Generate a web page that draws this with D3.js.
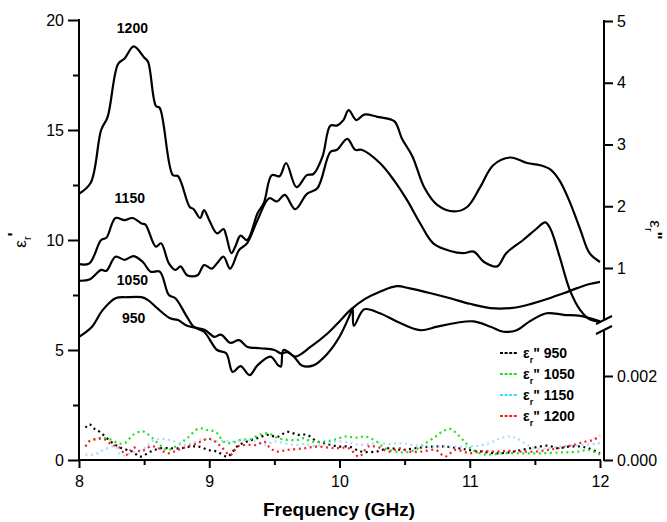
<!DOCTYPE html>
<html>
<head>
<meta charset="utf-8">
<script src="https://cdn.jsdelivr.net/npm/d3@7"></script>
<style>
  body { margin: 0; background: #fff; }
  svg { display: block; }
  text { font-family: Arial, "Liberation Sans", sans-serif; }
</style>
</head>
<body>
<script>
// eps' curves (left axis)
var freq1200 = [8.0,8.09,8.17,8.22,8.30,8.35,8.42,8.50,8.53,8.59,8.62,8.72,8.76,8.85,8.88,8.93,8.96,9.0,9.06,9.11,9.13,9.17,9.20,9.24,9.29,9.37,9.42,9.48,9.54,9.59,9.67,9.75,9.80,9.87,9.93,9.98,10.03,10.07,10.13,10.19,10.29,10.42,10.48,10.56,10.65,10.75,10.88,10.98,11.08,11.18,11.31,11.44,11.54,11.62,11.69,11.77,11.85,11.92,12.0];
var eps1200 = [12.1,12.6,15.0,15.6,18.0,18.25,18.8,18.3,18.1,16.1,16.0,12.95,12.9,11.5,11.4,11.0,11.36,10.9,10.3,10.5,10.2,9.4,9.7,10.2,10.0,11.2,11.7,12.95,12.9,13.5,12.4,12.95,13.0,13.8,15.2,15.2,15.45,15.9,15.45,15.7,15.6,15.4,14.6,13.8,12.4,11.6,11.3,11.5,12.4,13.4,13.75,13.5,13.4,13.2,12.7,11.7,10.45,9.4,9.0];

var freq1150 = [8.0,8.08,8.17,8.21,8.28,8.35,8.41,8.48,8.51,8.59,8.63,8.69,8.74,8.78,8.83,8.91,8.96,9.02,9.06,9.11,9.16,9.23,9.29,9.37,9.46,9.52,9.58,9.66,9.75,9.83,9.93,9.98,10.06,10.12,10.17,10.31,10.42,10.52,10.62,10.72,10.85,10.95,11.03,11.11,11.21,11.28,11.41,11.51,11.58,11.62,11.69,11.77,11.85,11.92,12.0];
var eps1150 = [8.9,8.94,10.0,10.1,11.0,10.9,11.0,10.75,10.7,9.7,9.85,8.94,8.64,8.8,8.4,8.4,8.86,8.7,8.94,9.24,8.7,9.55,9.85,10.9,11.9,11.75,12.05,11.4,12.1,12.35,14.0,14.1,14.6,14.1,14.1,13.5,12.7,11.8,10.75,9.85,9.5,9.4,9.47,9.0,8.8,9.4,10.0,10.5,10.8,10.5,9.24,7.7,6.8,6.4,6.3];

var freq1050 = [8.0,8.08,8.17,8.21,8.28,8.35,8.42,8.49,8.55,8.62,8.69,8.74,8.82,8.88,8.96,9.06,9.13,9.18,9.24,9.31,9.37,9.47,9.53,9.55,9.57,9.65,9.71,9.8,9.91,10.0,10.08,10.1,10.11,10.19,10.31,10.44,10.62,10.75,10.9,11.03,11.16,11.26,11.36,11.46,11.59,11.72,11.85,12.0];
var eps1050 = [8.15,8.2,8.64,8.6,9.24,9.1,9.27,9.0,8.56,8.56,7.5,7.35,6.6,6.06,5.83,5.0,4.85,4.0,4.27,3.86,4.3,4.7,4.3,4.25,5.0,4.7,4.3,4.3,4.85,5.6,6.6,6.9,6.1,6.85,6.67,6.3,5.9,6.06,6.24,6.3,6.06,5.83,5.9,6.3,6.67,6.6,6.55,6.3];

var freq950 = [8.0,8.1,8.18,8.28,8.37,8.48,8.53,8.6,8.7,8.76,8.83,8.91,8.97,9.04,9.09,9.16,9.23,9.29,9.39,9.5,9.55,9.6,9.66,9.78,9.91,10.0,10.08,10.19,10.31,10.44,10.54,10.7,10.85,11.0,11.16,11.31,11.41,11.57,11.72,11.82,11.92,12.0];
var eps950 = [5.6,6.06,6.8,7.35,7.4,7.4,7.27,6.9,6.44,6.36,6.1,6.0,5.9,5.6,5.7,5.33,5.45,5.15,5.08,5.0,4.85,4.9,4.7,5.15,5.76,6.3,6.8,7.3,7.65,7.9,7.8,7.58,7.35,7.1,6.9,6.9,7.0,7.27,7.58,7.8,8.0,8.1];

// eps'' curves (right lower axis, units of 1e-3)
var lossFreq950 = [8.05,8.08,8.12,8.16,8.24,8.32,8.41,8.47,8.55,8.63,8.7,8.78,8.86,8.92,8.99,9.06,9.14,9.18,9.22,9.29,9.37,9.45,9.52,9.6,9.68,9.75,9.83,9.91,9.99,10.07,10.17,10.28,10.38,10.48,10.58,10.71,10.81,10.91,10.99,11.09,11.2,11.3,11.4,11.5,11.6,11.68,11.76,11.85,11.91,12.0];
var loss950 = [0.77,0.85,0.74,0.67,0.45,0.29,0.2,0.08,0.2,0.28,0.28,0.28,0.32,0.32,0.24,0.2,0.08,0.2,0.34,0.44,0.52,0.6,0.55,0.67,0.6,0.6,0.44,0.38,0.32,0.32,0.2,0.2,0.28,0.24,0.28,0.32,0.32,0.28,0.24,0.2,0.16,0.18,0.24,0.3,0.34,0.28,0.32,0.32,0.28,0.16];

var lossFreq1050 = [8.05,8.08,8.13,8.19,8.25,8.3,8.35,8.42,8.49,8.55,8.62,8.68,8.76,8.83,8.92,8.99,9.05,9.11,9.16,9.24,9.32,9.39,9.46,9.52,9.6,9.68,9.73,9.78,9.88,9.96,10.05,10.13,10.2,10.28,10.35,10.43,10.5,10.58,10.66,10.74,10.79,10.85,10.91,10.97,11.02,11.12,11.25,11.4,11.55,11.71,11.84,11.91,12.0];
var loss1050 = [0.32,0.45,0.5,0.53,0.48,0.4,0.4,0.61,0.68,0.56,0.36,0.24,0.36,0.52,0.75,0.71,0.67,0.44,0.4,0.48,0.5,0.61,0.63,0.53,0.48,0.48,0.52,0.44,0.44,0.48,0.56,0.53,0.56,0.45,0.28,0.2,0.18,0.24,0.4,0.56,0.68,0.74,0.6,0.4,0.24,0.13,0.16,0.16,0.16,0.18,0.2,0.24,0.13];

var lossFreq1150 = [8.05,8.12,8.19,8.28,8.32,8.4,8.5,8.58,8.65,8.74,8.82,8.9,8.97,9.05,9.12,9.2,9.28,9.35,9.43,9.5,9.58,9.65,9.73,9.8,9.88,9.96,10.07,10.15,10.22,10.3,10.38,10.46,10.56,10.66,10.76,10.86,10.96,11.05,11.15,11.22,11.3,11.36,11.44,11.5,11.6,11.68,11.78,11.88,12.0];
var loss1150 = [0.13,0.13,0.24,0.32,0.12,0.16,0.28,0.48,0.5,0.44,0.36,0.44,0.5,0.45,0.45,0.44,0.48,0.44,0.36,0.44,0.4,0.36,0.38,0.34,0.36,0.44,0.42,0.36,0.38,0.4,0.38,0.4,0.36,0.32,0.33,0.32,0.32,0.33,0.4,0.5,0.56,0.52,0.36,0.28,0.28,0.32,0.34,0.36,0.4];

var lossFreq1200 = [8.05,8.08,8.13,8.19,8.25,8.31,8.36,8.42,8.47,8.55,8.6,8.68,8.76,8.83,8.91,8.96,9.01,9.09,9.16,9.22,9.29,9.37,9.42,9.47,9.52,9.6,9.73,9.83,9.96,10.07,10.15,10.22,10.3,10.38,10.46,10.53,10.63,10.74,10.81,10.89,11.0,11.09,11.2,11.3,11.4,11.5,11.6,11.68,11.81,11.89,11.95,12.0];
var loss1200 = [0.32,0.45,0.5,0.5,0.37,0.3,0.12,0.3,0.2,0.32,0.3,0.16,0.24,0.32,0.4,0.48,0.5,0.32,0.12,0.32,0.36,0.36,0.44,0.28,0.2,0.24,0.28,0.32,0.28,0.28,0.08,0.32,0.3,0.2,0.28,0.2,0.2,0.24,0.08,0.24,0.16,0.21,0.2,0.22,0.2,0.2,0.24,0.28,0.37,0.44,0.48,0.58];

var xTicks = [8, 9, 10, 11, 12];
var leftTicks = [0, 5, 10, 15, 20];
var rightUpperTicks = [1, 2, 3, 4, 5];
var rightLowerTicks = [0, 0.002];
var curveLabels = ["1200", "1150", "1050", "950"];
var legendNames = ["950", "1050", "1150", "1200"];
var legendColors = ["#000000", "#22dd22", "#33ddff", "#ee2222"];

var width = 667, height = 522;

var svg = d3.select("body").append("svg")
    .attr("width", width)
    .attr("height", height);

var x = d3.scaleLinear().domain([8, 12]).range([79, 600]);
var yL = d3.scaleLinear().domain([0, 20]).range([460, 20]);
var yRU = d3.scaleLinear().domain([1, 5]).range([268, 21]);
var yRL = d3.scaleLinear().domain([0, 0.002]).range([460, 376]);
var rightX = 604;

function styleAxis(g) {
    g.selectAll("path").remove();
    g.selectAll("line").attr("stroke", "#000").attr("stroke-width", 2);
    g.selectAll("text").attr("font-size", 16).attr("fill", "#000");
}

// bottom axis
svg.append("g")
    .attr("transform", "translate(0,460)")
    .call(d3.axisBottom(x).tickValues(xTicks).tickSize(8).tickPadding(8).tickFormat(d3.format("d")))
    .call(styleAxis);
svg.append("g")
    .attr("transform", "translate(0,460)")
    .call(d3.axisBottom(x).tickValues([8.5, 9.5, 10.5, 11.5]).tickSize(5).tickFormat(""))
    .call(styleAxis);
svg.append("line")
    .attr("x1", 78).attr("x2", 601).attr("y1", 460).attr("y2", 460)
    .attr("stroke", "#000").attr("stroke-width", 2);

// left axis
svg.append("g")
    .attr("transform", "translate(79,0)")
    .call(d3.axisLeft(yL).tickValues(leftTicks).tickSize(11).tickPadding(4).tickFormat(d3.format("d")))
    .call(styleAxis);
svg.append("g")
    .attr("transform", "translate(79,0)")
    .call(d3.axisLeft(yL).tickValues([2.5, 7.5, 12.5, 17.5]).tickSize(6).tickFormat(""))
    .call(styleAxis);
svg.append("line")
    .attr("x1", 79).attr("x2", 79).attr("y1", 19).attr("y2", 461)
    .attr("stroke", "#000").attr("stroke-width", 2);

// right axis, broken
svg.append("g")
    .attr("transform", "translate(" + rightX + ",0)")
    .call(d3.axisRight(yRU).tickValues(rightUpperTicks).tickSize(9).tickPadding(4).tickFormat(d3.format("d")))
    .call(styleAxis);
svg.append("g")
    .attr("transform", "translate(" + rightX + ",0)")
    .call(d3.axisRight(yRL).tickValues(rightLowerTicks).tickSize(9).tickPadding(4).tickFormat(d3.format(".3f")))
    .call(styleAxis);
svg.append("line")
    .attr("x1", rightX).attr("x2", rightX).attr("y1", 20).attr("y2", 319)
    .attr("stroke", "#000").attr("stroke-width", 2);
svg.append("line")
    .attr("x1", rightX).attr("x2", rightX).attr("y1", 331).attr("y2", 461)
    .attr("stroke", "#000").attr("stroke-width", 2);
[320, 330].forEach(function(yy) {
    svg.append("line")
        .attr("x1", rightX - 8).attr("y1", yy + 4)
        .attr("x2", rightX + 8).attr("y2", yy - 4)
        .attr("stroke", "#000").attr("stroke-width", 2);
});

// eps' lines
var realSeries = [
    {f: freq1200, v: eps1200},
    {f: freq1150, v: eps1150},
    {f: freq1050, v: eps1050},
    {f: freq950, v: eps950}
];
var line = d3.line()
    .x(d => x(d[0]))
    .y(d => yL(d[1]))
    .curve(d3.curveCatmullRom.alpha(0.5));

svg.append("g").selectAll("path")
    .data(realSeries)
    .enter().append("path")
    .attr("d", s => line(s.f.map((f, i) => [f, s.v[i]])))
    .attr("fill", "none")
    .attr("stroke", "#000")
    .attr("stroke-width", 2.2)
    .attr("stroke-linejoin", "round");

// eps'' dotted lines
var lossSeries = [
    {f: lossFreq950, v: loss950, c: legendColors[0]},
    {f: lossFreq1050, v: loss1050, c: legendColors[1]},
    {f: lossFreq1150, v: loss1150, c: "#a8dcff"},
    {f: lossFreq1200, v: loss1200, c: legendColors[3]}
];
var lossLine = d3.line()
    .x(d => x(d[0]))
    .y(d => yRL(d[1] / 1000))
    .curve(d3.curveCatmullRom.alpha(0.5));

svg.append("g").selectAll("path")
    .data(lossSeries)
    .enter().append("path")
    .attr("d", s => lossLine(s.f.map((f, i) => [f, s.v[i]])))
    .attr("fill", "none")
    .attr("stroke", s => s.c)
    .attr("stroke-width", 2.2)
    .attr("stroke-dasharray", "2,3.5");

// curve labels
var labelPos = [[8.41, 18.9], [8.39, 11.2], [8.41, 7.45], [8.42, 5.75]];
svg.append("g").selectAll("text")
    .data(curveLabels)
    .enter().append("text")
    .attr("x", (d, i) => x(labelPos[i][0]))
    .attr("y", (d, i) => yL(labelPos[i][1]) - 11)
    .attr("text-anchor", "middle")
    .attr("font-size", 14)
    .attr("font-weight", "bold")
    .text(d => d);

// legend
var legend = svg.append("g").selectAll("g")
    .data(legendNames)
    .enter().append("g")
    .attr("transform", (d, i) => "translate(500," + (353 + i * 21) + ")");
legend.append("line")
    .attr("x1", 0).attr("x2", 18).attr("y1", 0).attr("y2", 0)
    .attr("stroke", (d, i) => legendColors[i])
    .attr("stroke-width", 2)
    .attr("stroke-dasharray", "3,1.6");
var lt = legend.append("text")
    .attr("x", 23).attr("y", 5)
    .attr("font-size", 14)
    .attr("font-weight", "bold");
lt.append("tspan").text("\u03b5");
lt.append("tspan").attr("font-size", 9).attr("dy", 5).text("r");
lt.append("tspan").attr("dy", -5).text("\" ");
lt.append("tspan").text(d => d);

// axis titles
svg.append("text")
    .attr("x", 339).attr("y", 516)
    .attr("text-anchor", "middle")
    .attr("font-size", 19)
    .attr("font-weight", "bold")
    .text("Frequency (GHz)");

var yt = svg.append("text")
    .attr("transform", "translate(26,240) rotate(-90)")
    .attr("text-anchor", "middle")
    .attr("font-size", 17);
yt.append("tspan").text("\u03b5");
yt.append("tspan").attr("font-size", 11).attr("dy", 5).text("r");
yt.append("tspan").attr("dy", -11).attr("font-weight", "bold").text("'");

var yt2 = svg.append("text")
    .attr("transform", "translate(650,230) rotate(90)")
    .attr("text-anchor", "middle")
    .attr("font-size", 17);
yt2.append("tspan").text("\u03b5");
yt2.append("tspan").attr("font-size", 11).attr("dy", 5).text("r");
yt2.append("tspan").attr("dy", -5).attr("font-weight", "bold").text("\"");
</script>
</body>
</html>
